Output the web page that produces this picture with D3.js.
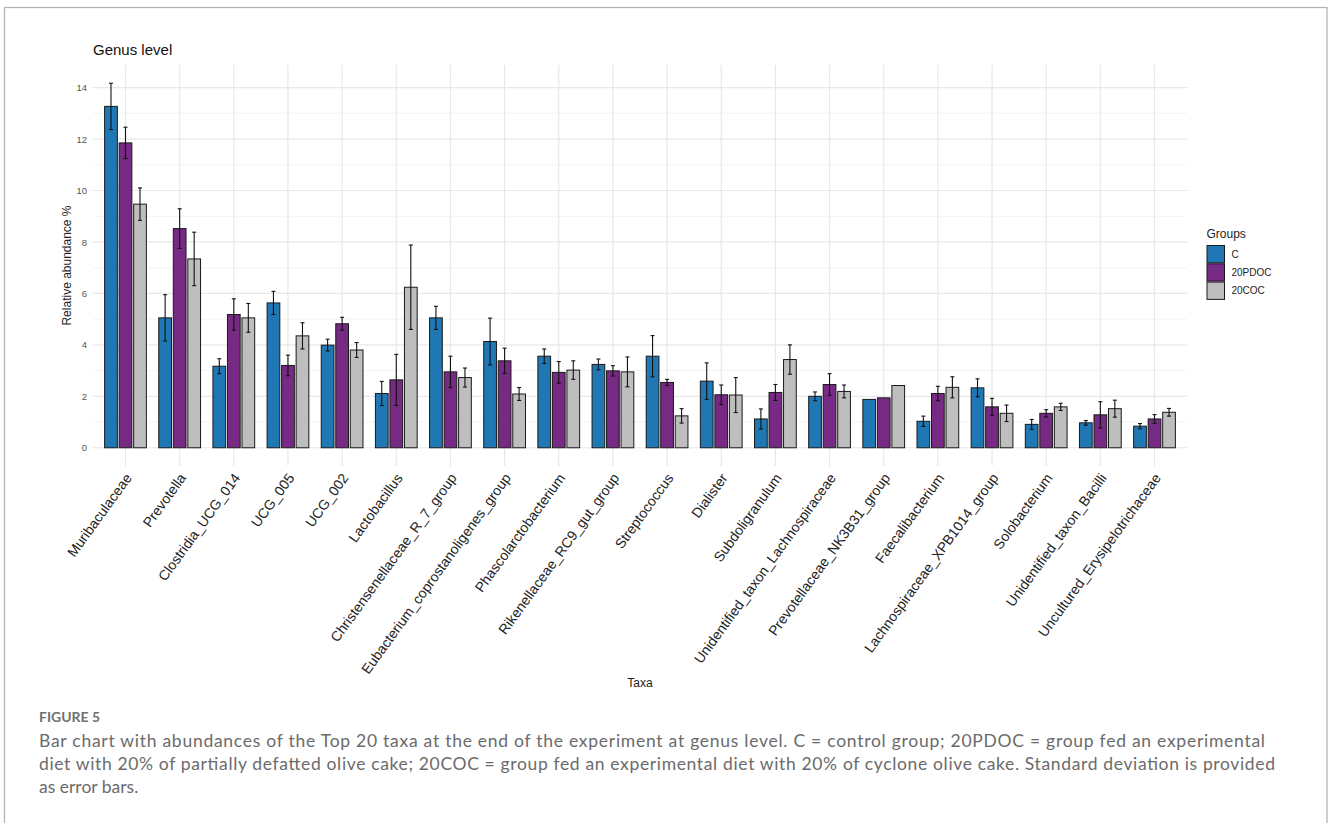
<!DOCTYPE html>
<html>
<head>
<meta charset="utf-8">
<script src="https://cdn.jsdelivr.net/npm/d3@7"></script>
<style>
  html, body { margin: 0; padding: 0; background: #fff; }
  svg { display: block; }
</style>
</head>
<body>
<svg id="fig" width="1328" height="823"></svg>
<script>
// Top 20 genera, mean relative abundance (%) and standard deviation per diet group
const taxa = [
  "Muribaculaceae", "Prevotella", "Clostridia_UCG_014", "UCG_005", "UCG_002",
  "Lactobacillus", "Christensenellaceae_R_7_group", "Eubacterium_coprostanoligenes_group",
  "Phascolarctobacterium", "Rikenellaceae_RC9_gut_group", "Streptococcus", "Dialister",
  "Subdoligranulum", "Unidentified_taxon_Lachnospiraceae", "Prevotellaceae_NK3B31_group",
  "Faecalibacterium", "Lachnospiraceae_XPB1014_group", "Solobacterium",
  "Unidentified_taxon_Bacilli", "Uncultured_Erysipelotrichaceae"
];
const groups = ["C", "20PDOC", "20COC"];

const meanC = [13.27, 5.05, 3.17, 5.63, 3.99, 2.11, 5.05, 4.13, 3.56, 3.24, 3.56, 2.59, 1.12, 2.00, 1.88, 1.03, 2.33, 0.91, 0.97, 0.84];
const sdC   = [0.90, 0.90, 0.29, 0.45, 0.23, 0.47, 0.45, 0.91, 0.28, 0.21, 0.80, 0.71, 0.39, 0.17, null, 0.20, 0.35, 0.19, 0.09, 0.10];
const meanPDOC = [11.85, 8.52, 5.18, 3.20, 4.82, 2.64, 2.95, 3.38, 2.93, 2.99, 2.54, 2.06, 2.15, 2.46, 1.94, 2.11, 1.59, 1.34, 1.28, 1.12];
const sdPDOC   = [0.61, 0.77, 0.61, 0.40, 0.25, 0.99, 0.61, 0.49, 0.42, 0.20, 0.12, 0.38, 0.31, 0.42, null, 0.28, 0.33, 0.14, 0.51, 0.17];
const meanCOC = [9.47, 7.34, 5.05, 4.35, 3.80, 6.24, 2.73, 2.09, 3.02, 2.95, 1.24, 2.05, 3.43, 2.19, 2.42, 2.35, 1.34, 1.59, 1.52, 1.38];
const sdCOC   = [0.63, 1.04, 0.56, 0.51, 0.29, 1.64, 0.37, 0.25, 0.36, 0.58, 0.28, 0.68, 0.57, 0.25, null, 0.41, 0.32, 0.14, 0.33, 0.15];

const yTicks = [0, 2, 4, 6, 8, 10, 12, 14];
const yMinorTicks = [1, 3, 5, 7, 9, 11, 13];

const captionHead = "FIGURE 5";
const captionLines = [
  "Bar chart with abundances of the Top 20 taxa at the end of the experiment at genus level. C = control group; 20PDOC = group fed an experimental",
  "diet with 20% of partially defatted olive cake; 20COC = group fed an experimental diet with 20% of cyclone olive cake. Standard deviation is provided",
  "as error bars."
];

// ---- assemble long-form records ----
const series = {
  "C":      { mean: meanC,    sd: sdC,    fill: "#1F78B4" },
  "20PDOC": { mean: meanPDOC, sd: sdPDOC, fill: "#762A83" },
  "20COC":  { mean: meanCOC,  sd: sdCOC,  fill: "#BEBEBE" }
};
const records = [];
taxa.forEach((t, i) => {
  groups.forEach(g => {
    records.push({ taxon: t, group: g, mean: series[g].mean[i], sd: series[g].sd[i] });
  });
});

const svg = d3.select("#fig");
const font = "'Liberation Sans', Arial, Helvetica, sans-serif";

// outer frame
svg.append("rect")
  .attr("x", 4.5).attr("y", 7.5)
  .attr("width", 1322.5).attr("height", 830)
  .attr("fill", "none").attr("stroke", "#b4b4b4").attr("stroke-width", 1.3);

// ---- panel geometry ----
const panel = { left: 93, right: 1187, top: 65, bottom: 466 };

const x = d3.scaleBand()
  .domain(taxa)
  .range([panel.left, panel.right])
  .paddingInner(0)
  .paddingOuter(0.1);
const step = x.step();

const sub = 0.268 * step;
const xg = d3.scaleBand()
  .domain(groups)
  .range([-1.5 * sub, 1.5 * sub])
  .paddingInner(1 - 0.235 / 0.268)
  .paddingOuter((1 - 0.235 / 0.268) / 2);

const yMax = d3.max(records, d => d.mean + (d.sd || 0));
const yPad = 0.05 * yMax;
const y = d3.scaleLinear()
  .domain([-yPad, yMax + yPad])
  .range([panel.bottom, panel.top]);

const cx = t => x(t) + x.bandwidth() / 2;

// ---- grid ----
const grid = svg.append("g");
grid.selectAll("line.minor").data(yMinorTicks).join("line")
  .attr("x1", panel.left).attr("x2", panel.right)
  .attr("y1", d => y(d)).attr("y2", d => y(d))
  .attr("stroke", "#f3f3f3").attr("stroke-width", 1);
grid.selectAll("line.major").data(yTicks).join("line")
  .attr("x1", panel.left).attr("x2", panel.right)
  .attr("y1", d => y(d)).attr("y2", d => y(d))
  .attr("stroke", "#e8e8e8").attr("stroke-width", 1.2);
grid.selectAll("line.vert").data(taxa).join("line")
  .attr("x1", d => cx(d)).attr("x2", d => cx(d))
  .attr("y1", panel.top).attr("y2", panel.bottom)
  .attr("stroke", "#e8e8e8").attr("stroke-width", 1.2);

// ---- y axis ----
const yAxis = d3.axisLeft(y).tickValues(yTicks).tickSize(0).tickPadding(6);
const yg = svg.append("g")
  .attr("transform", `translate(${panel.left},0)`)
  .call(yAxis);
yg.select(".domain").remove();
yg.selectAll("text")
  .attr("font-family", font).attr("font-size", 9.5).attr("fill", "#555");

// ---- bars ----
const barG = svg.append("g");
barG.selectAll("rect").data(records).join("rect")
  .attr("x", d => cx(d.taxon) + xg(d.group))
  .attr("width", xg.bandwidth())
  .attr("y", d => y(d.mean))
  .attr("height", d => y(0) - y(d.mean))
  .attr("fill", d => series[d.group].fill)
  .attr("stroke", "#1a1a1a").attr("stroke-width", 1);

// ---- error bars ----
const errG = svg.append("g").attr("stroke", "#111").attr("stroke-width", 1.1);
const withSd = records.filter(d => d.sd != null);
const ex = d => cx(d.taxon) + xg(d.group) + xg.bandwidth() / 2;
errG.selectAll("line.v").data(withSd).join("line")
  .attr("x1", ex).attr("x2", ex)
  .attr("y1", d => y(d.mean - d.sd)).attr("y2", d => y(d.mean + d.sd));
errG.selectAll("line.top").data(withSd).join("line")
  .attr("x1", d => ex(d) - 2).attr("x2", d => ex(d) + 2)
  .attr("y1", d => y(d.mean + d.sd)).attr("y2", d => y(d.mean + d.sd));
errG.selectAll("line.bot").data(withSd).join("line")
  .attr("x1", d => ex(d) - 2).attr("x2", d => ex(d) + 2)
  .attr("y1", d => y(d.mean - d.sd)).attr("y2", d => y(d.mean - d.sd));

// ---- x axis labels (rotated) ----
const xAxis = d3.axisBottom(x).tickSize(0).tickPadding(0);
const xgAxis = svg.append("g")
  .attr("transform", `translate(0,${panel.bottom})`)
  .call(xAxis);
xgAxis.select(".domain").remove();
xgAxis.selectAll("text")
  .attr("font-family", font).attr("font-size", 14).attr("fill", "#222")
  .attr("text-anchor", "end")
  .attr("dy", null).attr("y", 0)
  .attr("transform", "translate(7,12) rotate(-54)");

// ---- titles ----
svg.append("text")
  .attr("x", panel.left).attr("y", 55)
  .attr("font-family", font).attr("font-size", 15).attr("fill", "#111")
  .text("Genus level");

svg.append("text")
  .attr("transform", `translate(71,${(panel.top + panel.bottom) / 2}) rotate(-90)`)
  .attr("text-anchor", "middle")
  .attr("font-family", font).attr("font-size", 12).attr("fill", "#222")
  .text("Relative abundance %");

svg.append("text")
  .attr("x", (panel.left + panel.right) / 2).attr("y", 687)
  .attr("text-anchor", "middle")
  .attr("font-family", font).attr("font-size", 12).attr("fill", "#222")
  .text("Taxa");

// ---- legend ----
const leg = svg.append("g").attr("transform", "translate(1206.5,0)");
leg.append("text")
  .attr("x", 0).attr("y", 238)
  .attr("font-family", font).attr("font-size", 12).attr("fill", "#222")
  .text("Groups");
const keyH = 18.3;
const keys = leg.selectAll("g.key").data(groups).join("g")
  .attr("transform", (d, i) => `translate(0,${245 + i * keyH})`);
keys.append("rect")
  .attr("x", 0.5).attr("y", 0.5)
  .attr("width", 17.5).attr("height", keyH - 1)
  .attr("fill", d => series[d].fill)
  .attr("stroke", "#1a1a1a").attr("stroke-width", 1);
keys.append("text")
  .attr("x", 25).attr("y", keyH / 2 + 3.6)
  .attr("font-family", font).attr("font-size", 10).attr("fill", "#222")
  .text(d => d);

// ---- caption ----
const capFont = "Lato, 'Open Sans', sans-serif";
svg.append("text")
  .attr("x", 39).attr("y", 722)
  .attr("font-family", capFont).attr("font-size", 14).attr("font-weight", 700)
  .attr("fill", "#707070")
  .attr("textLength", 61).attr("lengthAdjust", "spacingAndGlyphs")
  .text(captionHead);
const capWidths = [1226, 1236, null];
captionLines.forEach((line, i) => {
  const t = svg.append("text")
    .attr("x", 39).attr("y", 746.5 + i * 23.3)
    .attr("font-family", capFont).attr("font-size", 17.5)
    .attr("fill", "#6b6b6b")
    .text(line);
  if (capWidths[i]) t.attr("textLength", capWidths[i]).attr("lengthAdjust", "spacing");
});
</script>
</body>
</html>
